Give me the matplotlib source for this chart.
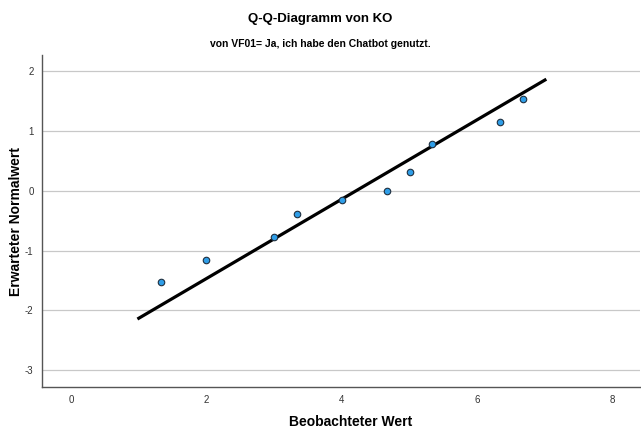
import matplotlib
matplotlib.use("Agg")
import matplotlib.pyplot as plt

plt.rcParams['font.family'] = ['Liberation Sans', 'DejaVu Sans']
plt.rcParams['axes.unicode_minus'] = False

# beobachtete Werte und erwartete Normalwerte
beobachtet = [1.33, 2.0, 3.0, 3.33, 4.0, 4.67, 5.0, 5.33, 6.33, 6.67]
erwartet = [-1.53, -1.15, -0.77, -0.39, -0.15, 0.0, 0.32, 0.78, 1.15, 1.53]

# Normalverteilungslinie
linie_x = [1.0, 7.0]
linie_y = [-2.13, 1.85]

x_ticks = [0, 2, 4, 6, 8]
y_ticks = [-3, -2, -1, 0, 1, 2]

fig = plt.figure(figsize=(6.41, 4.32), dpi=100)
ax = fig.add_axes([0.0655, 0.104, 0.9325, 0.769])

for yt in y_ticks:
    ax.axhline(yt, color='#c8c8c8', linewidth=0.9, zorder=0)

ax.plot(linie_x, linie_y, color='black', linewidth=2.3, zorder=2)
ax.scatter(beobachtet, erwartet, s=22, color='#2f9ee8', edgecolor='#1f2f3f',
           linewidth=0.8, zorder=3)

ax.set_xlim(-0.43, 8.4)
ax.set_ylim(-3.28, 2.27)
ax.set_xticks(x_ticks)
ax.set_yticks(y_ticks)
ax.tick_params(length=0, labelsize=7, colors='#333333', pad=6)

for s in ['top', 'right']:
    ax.spines[s].set_visible(False)
for s in ['left', 'bottom']:
    ax.spines[s].set_color('#555555')
    ax.spines[s].set_linewidth(1.0)

fig.text(0.5, 0.956, 'Q-Q-Diagramm von KO', ha='center', va='center',
         fontsize=9.5, fontweight='bold')
fig.text(0.5, 0.898, 'von VF01= Ja, ich habe den Chatbot genutzt.', ha='center',
         va='center', fontsize=7.5, fontweight='bold')
fig.text(0.547, 0.023, 'Beobachteter Wert', ha='center', va='center',
         fontsize=10, fontweight='bold')
fig.text(0.025, 0.488, 'Erwarteter Normalwert', ha='center', va='center',
         fontsize=10, fontweight='bold', rotation=90)

fig.savefig('out.png', dpi=100)
